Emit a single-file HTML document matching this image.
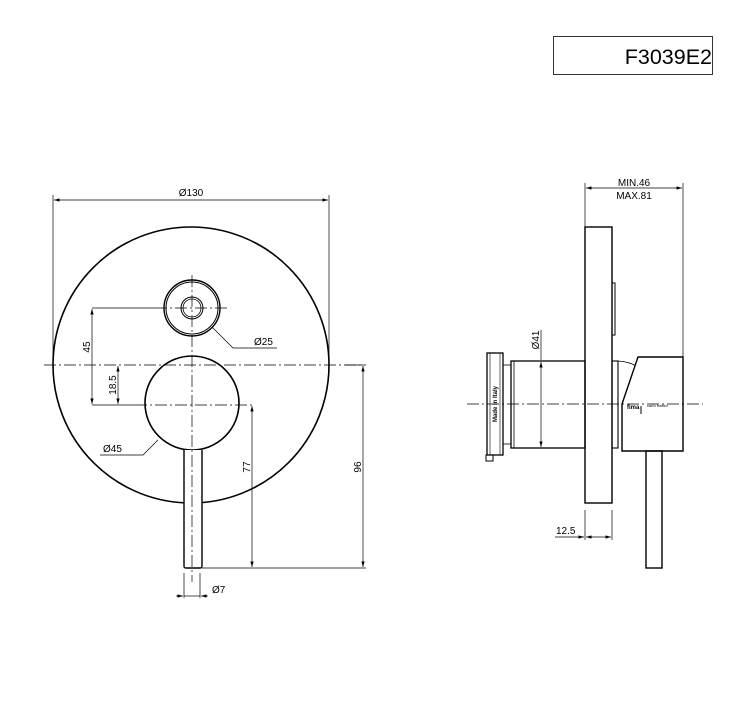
<!DOCTYPE html>
<html><head><meta charset="utf-8"><style>
html,body{margin:0;padding:0;background:#fff;}
svg{display:block;font-family:"Liberation Sans",sans-serif;}
</style></head><body>
<svg width="750" height="727" viewBox="0 0 750 727" xmlns="http://www.w3.org/2000/svg">
<defs>
<marker id="a" viewBox="0 0 10 6" refX="10" refY="3" markerWidth="8" markerHeight="5" orient="auto-start-reverse"><path d="M0,0 L10,3 L0,6 z" fill="#000"/></marker>
</defs>
<rect x="553.5" y="36.5" width="159" height="38" fill="none" stroke="#333" stroke-width="1"/>
<text x="712" y="64" font-size="21.5" text-anchor="end" fill="#000">F3039E2</text>

<g stroke="#000" fill="none">
<circle cx="191" cy="365" r="138" stroke-width="1.6"/>
<circle cx="192" cy="308" r="28" stroke-width="1.4"/>
<circle cx="192" cy="308" r="26" stroke-width="1"/>
<circle cx="192" cy="308" r="11" stroke-width="1"/>
<circle cx="192" cy="308" r="9" stroke-width="0.8"/>
<circle cx="192" cy="403" r="47" stroke-width="1.6"/>
<path d="M184,450 V566 Q184,568 186,568 H200 Q202,568 202,566 V450" stroke-width="1.4" fill="#fff"/>
<g stroke-width="0.7" stroke-dasharray="12,3,2,3">
<line x1="44" y1="365" x2="363" y2="365"/>
<line x1="192" y1="275" x2="192" y2="582"/>
<line x1="155" y1="308" x2="228" y2="308"/>
<line x1="135" y1="405" x2="255" y2="405"/>
</g>
<g stroke-width="0.7">
<line x1="53" y1="195" x2="53" y2="365"/>
<line x1="329" y1="195" x2="329" y2="365"/>
<line x1="54" y1="200" x2="328" y2="200" marker-start="url(#a)" marker-end="url(#a)"/>
<line x1="92" y1="308" x2="155" y2="308"/>
<line x1="92" y1="405" x2="135" y2="405"/>
<line x1="92" y1="309" x2="92" y2="404" marker-start="url(#a)" marker-end="url(#a)"/>
<line x1="118" y1="366" x2="118" y2="404" marker-start="url(#a)" marker-end="url(#a)"/>
<line x1="252" y1="406" x2="252" y2="567" marker-start="url(#a)" marker-end="url(#a)"/>
<line x1="202" y1="568" x2="366" y2="568"/>
<line x1="345" y1="365" x2="366" y2="365"/>
<line x1="363" y1="366" x2="363" y2="567" marker-start="url(#a)" marker-end="url(#a)"/>
<polyline points="212,327 233,348 277,348"/>
<polyline points="158,440 143,455 100,455"/>
<line x1="184" y1="573" x2="184" y2="598"/>
<line x1="200" y1="573" x2="200" y2="598"/>
<line x1="176" y1="596" x2="183" y2="596" marker-end="url(#a)"/>
<line x1="208" y1="596" x2="201" y2="596" marker-end="url(#a)"/>
<line x1="184" y1="596" x2="200" y2="596"/>
</g>

<rect x="585" y="227" width="27" height="276" stroke-width="1.4" fill="#fff"/>
<rect x="612" y="283" width="3" height="52" stroke-width="1"/>
<rect x="487" y="353" width="16" height="102" stroke-width="1.3"/>
<line x1="490" y1="353" x2="490" y2="455" stroke-width="0.6"/>
<line x1="500" y1="353" x2="500" y2="455" stroke-width="0.6"/>
<rect x="486" y="455" width="7" height="6" stroke-width="1"/>
<rect x="511" y="361" width="74" height="87" stroke-width="1.3"/>
<line x1="514" y1="361" x2="514" y2="448" stroke-width="0.8"/>
<line x1="503" y1="365" x2="511" y2="365" stroke-width="0.8"/>
<line x1="503" y1="444" x2="511" y2="444" stroke-width="0.8"/>
<rect x="612" y="361" width="6" height="87" stroke-width="1.1"/>
<path d="M618,361 Q630,362 636,366" stroke-width="0.8"/>
<path d="M638,357 H683 V451 H622 V404 Z" stroke-width="1.4" fill="#fff"/>
<rect x="646" y="451" width="16" height="117" stroke-width="1.4"/>
<line x1="467" y1="404" x2="703" y2="404" stroke-width="0.7" stroke-dasharray="12,3,2,3"/>
<g stroke-width="0.7">
<line x1="585" y1="183" x2="585" y2="227"/>
<line x1="683" y1="183" x2="683" y2="357"/>
<line x1="586" y1="188" x2="682" y2="188" marker-start="url(#a)" marker-end="url(#a)"/>
<line x1="541" y1="330" x2="541" y2="360"/>
<line x1="541" y1="362" x2="541" y2="447" marker-start="url(#a)" marker-end="url(#a)"/>
<line x1="585" y1="510" x2="585" y2="540"/>
<line x1="612" y1="510" x2="612" y2="540"/>
<line x1="555" y1="537" x2="584" y2="537" marker-end="url(#a)"/>
<line x1="586" y1="537" x2="611" y2="537" marker-start="url(#a)" marker-end="url(#a)"/>
</g>
</g>

<g font-size="10" fill="#000">
<text x="191" y="196" text-anchor="middle">Ø130</text>
<text x="254" y="345">Ø25</text>
<text x="103" y="452">Ø45</text>
<text x="212" y="593">Ø7</text>
<text transform="translate(90,347) rotate(-90)" text-anchor="middle">45</text>
<text transform="translate(116,385) rotate(-90)" text-anchor="middle">18.5</text>
<text transform="translate(250,467) rotate(-90)" text-anchor="middle">77</text>
<text transform="translate(361,467) rotate(-90)" text-anchor="middle">96</text>
<text transform="translate(539,340) rotate(-90)" text-anchor="middle">Ø41</text>
<text x="634" y="186" text-anchor="middle">MIN.46</text>
<text x="634" y="199" text-anchor="middle">MAX.81</text>
<text x="556" y="534">12.5</text>
<text transform="translate(497,404) rotate(-90)" text-anchor="middle" font-size="6" font-weight="bold">Made in Italy</text>
<text x="627" y="409" font-size="6" font-weight="bold">fima</text>
<text x="647" y="407" font-size="4">carlo frattini</text>
</g>
<line x1="641" y1="406" x2="641" y2="414" stroke="#000" stroke-width="1"/>
</svg>
</body></html>
